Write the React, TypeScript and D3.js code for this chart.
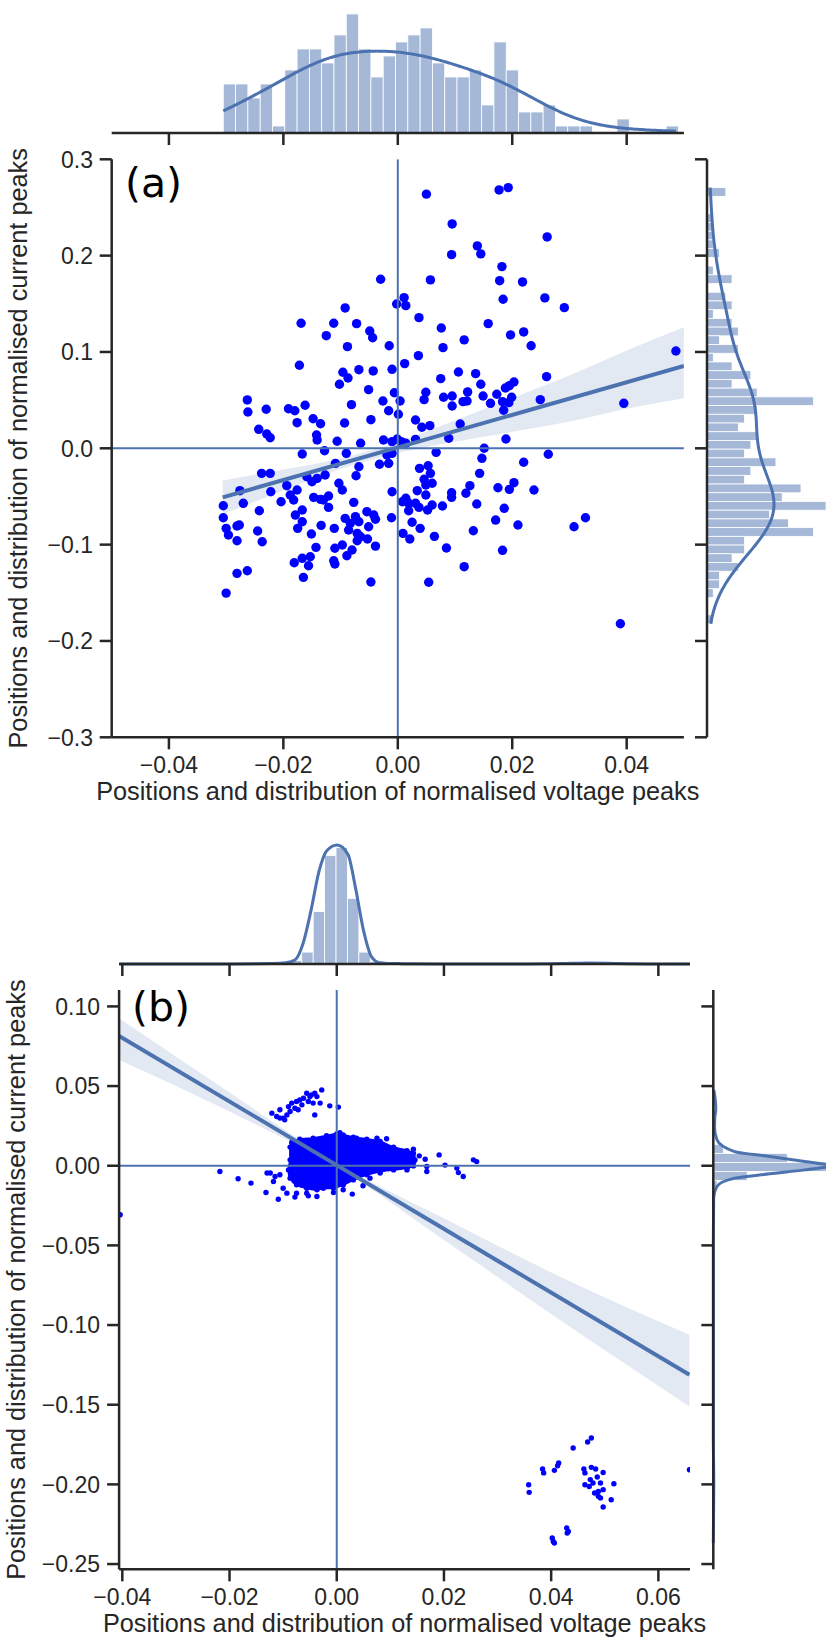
import React from "react";
import * as d3 from "d3";

// ---------------- Panel (a) data ----------------
const aPtsX = [0.0050,0.0095,0.0094,-0.0030,0.0057,0.0011,-0.0002,0.0014,0.0037,-0.0092,-0.0169,-0.0112,-0.0072,-0.0125,-0.0049,-0.0044,0.0076,-0.0088,-0.0015,0.0079,0.0036,-0.0172,0.0012,-0.0010,-0.0068,-0.0043,-0.0096,-0.0087,-0.0102,0.0075,-0.0051,-0.0026,-0.0006,0.0004,0.0049,0.0046,0.0080,-0.0081,0.0095,-0.0263,-0.0262,-0.0230,-0.0191,-0.0180,-0.0162,-0.0176,-0.0148,-0.0135,-0.0093,-0.0047,-0.0016,0.0001,0.0031,0.0042,0.0056,-0.0243,-0.0229,-0.0223,0.0177,0.0193,0.0261,0.0139,0.0145,0.0182,0.0178,0.0218,0.0257,0.0184,0.0291,0.0158,0.0197,0.0220,0.0116,0.0233,0.0486,0.0106,0.0136,0.0145,0.0260,0.0203,0.0195,0.0188,0.0122,0.0095,0.0114,0.0121,0.0149,0.0173,0.0162,0.0183,0.0194,0.0199,0.0185,0.0249,0.0395,0.0109,0.0089,0.0189,0.0031,-0.0001,-0.0142,-0.0141,-0.0106,-0.0065,-0.0025,-0.0010,0.0006,0.0014,-0.0128,-0.0167,-0.0090,-0.0109,-0.0068,-0.0032,-0.0016,-0.0019,-0.0010,0.0067,-0.0238,-0.0223,-0.0073,-0.0159,-0.0150,-0.0141,-0.0127,0.0038,0.0053,0.0057,0.0046,0.0060,0.0049,-0.0276,-0.0222,-0.0194,-0.0176,-0.0188,-0.0182,-0.0103,-0.0097,-0.0010,0.0034,0.0049,-0.0147,-0.0135,-0.0121,-0.0130,-0.0121,-0.0204,-0.0270,-0.0305,-0.0077,0.0014,0.0019,0.0031,0.0037,0.0052,0.0060,0.0078,0.0008,0.0019,-0.0242,-0.0179,-0.0167,-0.0305,-0.0167,-0.0092,-0.0074,-0.0054,-0.0042,-0.0039,-0.0083,-0.0068,-0.0051,-0.0086,-0.0011,0.0025,0.0039,-0.0300,-0.0296,-0.0281,-0.0277,-0.0245,-0.0175,-0.0134,-0.0111,-0.0151,-0.0071,-0.0065,-0.0053,-0.0071,-0.0039,0.0009,0.0021,0.0064,0.0085,-0.0281,-0.0237,-0.0143,-0.0110,-0.0097,-0.0080,-0.0089,-0.0153,-0.0167,-0.0181,-0.0156,-0.0112,-0.0110,-0.0165,-0.0281,-0.0263,-0.0047,0.0054,-0.0300,0.0151,0.0263,0.0147,0.0220,0.0143,0.0126,0.0119,0.0094,0.0094,0.0175,0.0195,0.0203,0.0238,0.0138,0.0186,0.0171,0.0210,0.0132,0.0183,0.0116,0.0308,0.0328,0.0389];
const aPtsY = [0.2638,0.2329,0.2010,0.1755,0.1748,0.1564,0.1498,0.1481,0.1356,0.1457,0.1298,0.1298,0.1294,0.1169,0.1218,0.1148,0.1249,0.1055,0.1065,0.1045,0.0962,0.0862,0.0879,0.0820,0.0816,0.0803,0.0789,0.0730,0.0665,0.0723,0.0609,0.0491,0.0577,0.0491,0.0582,0.0505,0.0530,0.0453,0.0439,0.0502,0.0377,0.0405,0.0411,0.0390,0.0447,0.0266,0.0307,0.0255,0.0263,0.0297,0.0390,0.0353,0.0294,0.0218,0.0235,0.0197,0.0148,0.0110,0.2682,0.2706,0.2194,0.2101,0.2018,0.1886,0.1740,0.1727,0.1561,0.1547,0.1460,0.1294,0.1177,0.1208,0.1125,0.1065,0.1010,0.0792,0.0775,0.0665,0.0744,0.0688,0.0650,0.0626,0.0585,0.0543,0.0484,0.0491,0.0543,0.0561,0.0467,0.0484,0.0474,0.0530,0.0395,0.0505,0.0467,0.0252,0.0104,0.0097,0.0093,0.0097,0.0138,0.0086,0.0073,0.0052,0.0086,0.0069,0.0069,0.0052,-0.0025,-0.0059,-0.0052,-0.0156,-0.0191,-0.0166,-0.0156,-0.0070,-0.0052,-0.0042,-0.0260,-0.0260,-0.0285,-0.0295,-0.0347,-0.0312,-0.0277,-0.0208,-0.0181,-0.0260,-0.0322,-0.0363,-0.0381,-0.0440,-0.0451,-0.0388,-0.0433,-0.0485,-0.0537,-0.0363,-0.0433,-0.0451,-0.0440,-0.0485,-0.0509,-0.0530,-0.0495,-0.0537,-0.0613,-0.0555,-0.0571,-0.0596,-0.0561,-0.0519,-0.0571,-0.0571,-0.0613,-0.0641,-0.0589,-0.0599,-0.0555,-0.0648,-0.0648,-0.0693,-0.0641,-0.0721,-0.0762,-0.0727,-0.0710,-0.0658,-0.0693,-0.0737,-0.0779,-0.0762,-0.0814,-0.0848,-0.0721,-0.0768,-0.0831,-0.0831,-0.0900,-0.0807,-0.0796,-0.0859,-0.0831,-0.0800,-0.0831,-0.0890,-0.0883,-0.0918,-0.0942,-0.0960,-0.1015,-0.0883,-0.0942,-0.0914,-0.1035,-0.0960,-0.0970,-0.1028,-0.1038,-0.1004,-0.1056,-0.1115,-0.1126,-0.1142,-0.1188,-0.1219,-0.1167,-0.1201,-0.1340,-0.1298,-0.1271,-0.1388,-0.1391,-0.1503,0.0000,-0.0062,-0.0104,-0.0145,-0.0260,-0.0388,-0.0467,-0.0461,-0.0509,-0.0409,-0.0426,-0.0357,-0.0433,-0.0578,-0.0623,-0.0745,-0.0796,-0.0856,-0.1059,-0.1229,-0.0814,-0.0721,-0.1821];

const aTopHistStart = -0.0305;
const aTopHistWidth = 0.00215;
const aTopHist = [7,7,5,7,1,9,12,12,10,14,17,12,8,11,13,14,15,10,8,8,9,4,13,9,3,3,4,1,1,1,0,0,2,0,0,0,1];

const aRightHistStart = 0.2706;
const aRightHistWidth = 0.00905;
const aRightHist = [3,0,0,1,1,1,1,2,0,1,4,0,3,4,1,4,5,2,5,1,4,7,4,8,17,8,6,5,8,7,6,11,7,6,15,12,19,10,13,17,6,6,4,5,2,2,1,0,0,1];

const aRegLineX = [-0.0306, 0.05];
const aRegLineY = [-0.0509, 0.0855];
const aBandX = [-0.0306,-0.02,-0.01,0,0.01,0.02,0.03,0.04,0.05];
const aBandHigh = [-0.0333,-0.0220,-0.0105,0.0066,0.0289,0.0522,0.0757,0.1015,0.1256];
const aBandLow = [-0.0685,-0.0438,-0.0215,-0.0048,0.0067,0.0172,0.0277,0.0410,0.0519];

const aXTicks = [-0.04,-0.02,0,0.02,0.04];
const aYTicks = [-0.3,-0.2,-0.1,0,0.1,0.2,0.3];

// ---------------- Panel (b) data ----------------
const bPtsX = [-0.0121,-0.0112,-0.0106,-0.0100,-0.0093,-0.0090,-0.0084,-0.0078,-0.0075,-0.0069,-0.0062,-0.0056,-0.0050,-0.0041,-0.0037,-0.0028,-0.0044,-0.0031,-0.0013,0.0003,-0.0041,-0.0087,-0.0097,-0.0106,-0.0072,-0.0065,-0.0053,-0.0047,
-0.0184,-0.0160,-0.0132,-0.0109,-0.0130,-0.0124,-0.0115,-0.0106,-0.0118,-0.0100,-0.0093,-0.0078,-0.0075,-0.0056,-0.0053,-0.0037,-0.0019,-0.0006,0.0012,0.0012,0.0029,0.0049,0.0062,0.0081,0.0106,0.0131,0.0168,0.0168,0.0224,0.0227,0.0236,0.0191,0.0165,0.0154,0.0143,0.0144,0.0202,0.0255,0.0261,0.0093,0.0075,0.0037,0.0006,0.0118,0.0137,-0.0218,-0.0404,
0.0475,0.0468,0.0441,0.0414,0.0412,0.0406,0.0384,0.0386,0.0358,0.0359,0.0461,0.0463,0.0475,0.0483,0.0486,0.0473,0.0463,0.0471,0.0492,0.0497,0.0517,0.0488,0.0497,0.0488,0.0492,0.0512,0.0497,0.0402,0.0404,0.0406,0.0429,0.0432,0.0430,0.0658,0.0478,0.0481];
const bPtsY = [0.0330,0.0309,0.0351,0.0299,0.0319,0.0371,0.0393,0.0361,0.0403,0.0413,0.0424,0.0455,0.0434,0.0455,0.0434,0.0476,0.0393,0.0393,0.0376,0.0368,0.0319,0.0340,0.0288,0.0299,0.0351,0.0382,0.0403,0.0445,
-0.0082,-0.0109,-0.0168,-0.0210,-0.0046,-0.0046,-0.0068,-0.0057,-0.0099,-0.0141,-0.0172,-0.0197,-0.0172,-0.0172,-0.0189,-0.0193,-0.0130,-0.0168,-0.0151,-0.0120,-0.0178,-0.0126,-0.0078,-0.0046,-0.0015,-0.0026,-0.0036,-0.0005,-0.0015,-0.0043,-0.0068,0.0068,0.0041,0.0062,0.0104,0.0026,0.0004,0.0037,0.0026,0.0169,0.0173,0.0173,0.0208,0.0062,0.0058,-0.0036,-0.0308,
-0.1709,-0.1734,-0.1772,-0.1866,-0.1883,-0.1912,-0.1903,-0.1928,-0.2002,-0.2050,-0.1903,-0.1928,-0.1893,-0.1903,-0.1954,-0.1970,-0.2002,-0.2013,-0.1991,-0.1925,-0.1996,-0.2044,-0.2033,-0.2075,-0.2085,-0.2096,-0.2142,-0.2336,-0.2358,-0.2368,-0.2274,-0.2295,-0.2305,-0.1908,-0.1991,-0.2054];

// outline of the dense (fully overlapping) central cloud of points
const bBlobX = [-0.0087,-0.0084,-0.0069,-0.0044,-0.0019,0.0000,0.0012,0.0031,0.0056,0.0081,0.0106,0.0131,0.0143,0.0146,0.0143,0.0131,0.0106,0.0081,0.0056,0.0031,0.0012,-0.0006,-0.0025,-0.0037,-0.0056,-0.0075,-0.0087,-0.0090,-0.0087];
const bBlobY = [0.0117,0.0146,0.0167,0.0173,0.0188,0.0200,0.0194,0.0179,0.0167,0.0152,0.0117,0.0095,0.0079,0.0037,-0.0001,-0.0015,-0.0026,-0.0036,-0.0057,-0.0089,-0.0120,-0.0141,-0.0141,-0.0151,-0.0141,-0.0120,-0.0078,-0.0026,0.0037];

const bTopHistStart = -0.0406;
const bTopHistWidth = 0.00213;
const bTopHist = [0,0,0,0,0,0,0,0,0,0,0,0,0,0,0,3,10,44,91,98,55,10,2,0,0,0,0,0,0,0,0,0,0,0,0,0,0,0,0,0,0.5,0.6,0.4,0,0,0,0,0,0,0];
const bTopKdeX = [-0.0406,-0.02,-0.012,-0.0095,-0.0078,-0.0063,-0.0048,-0.0033,-0.0019,0.0001,0.0021,0.0035,0.005,0.0065,0.008,0.0095,0.012,0.02,0.035,0.042,0.047,0.052,0.058,0.0659];
const bTopKdeV = [0,0.1,0.4,1,3.3,17,45,78,95,100,92,64,28,6,1,0.5,0.3,0.1,0.1,0.4,0.8,0.5,0.1,0];

const bRightHistStart = 0.0476;
const bRightHistWidth = 0.00569;
const bRightHist = [0,0.6,0.8,0.5,0,0,8,59,94,27,3,0,0,0,0,0,0,0,0,0,0,0,0,0,0,0,0,0,0,0,0,0,0,0,0,0,0,0,0,0,0,0,0,0,0,0,0,0,0,0];
const bRightKdeY = [0.0476,0.042,0.036,0.030,0.024,0.0163,0.0089,0.0058,0.0026,0.0,-0.0026,-0.0051,-0.0078,-0.013,-0.02,-0.05,-0.1,-0.17,-0.19,-0.2,-0.21,-0.2368];
const bRightKdeV = [0.3,1.5,2,1.2,1,2.9,17,45,73,95,73,45,17,2.9,0.3,0,0,0,0.3,0.4,0.3,0];

const bRegLineX = [-0.0406, 0.0658];
const bRegLineY = [0.0815, -0.1312];
const bBandX = [-0.0406,-0.02,0,0.02,0.04,0.0658];
const bBandHigh = [0.0926,0.0460,0.0016,-0.0330,-0.0670,-0.1061];
const bBandLow = [0.0664,0.0340,-0.0008,-0.0466,-0.0930,-0.1511];

const bXTicks = [-0.04,-0.02,0,0.02,0.04,0.06];
const bYTicks = [-0.25,-0.2,-0.15,-0.1,-0.05,0,0.05,0.1];

const xLabel = "Positions and distribution of normalised voltage peaks";
const yLabel = "Positions and distribution of normalised current peaks";

// ---------------- styling ----------------
const AXIS = "#262626";
const DEEP = "#4c72b0";
const HIST = "#a5b8d8";
const BAND = "#e2e9f3";
const PT = "#0000ff";
const TICKFONT = "'Liberation Sans', Arial, sans-serif";

function kdeCurve(values: number[], lo: number, hi: number, adjust = 1, n = 200) {
  const N = values.length;
  const sorted = values.slice().sort((a, b) => a - b);
  const sd = d3.deviation(values) as number;
  const iqr = (d3.quantile(sorted, 0.75) as number) - (d3.quantile(sorted, 0.25) as number);
  const A = Math.min(sd, iqr / 1.349);
  const bw = adjust * 1.059 * A * Math.pow(N, -0.2);
  const c = 1 / (N * bw * Math.sqrt(2 * Math.PI));
  return d3.range(n + 1).map((i) => {
    const x = lo + ((hi - lo) * i) / n;
    let s = 0;
    for (const v of values) { const z = (x - v) / bw; s += Math.exp(-0.5 * z * z); }
    return [x, s * c] as [number, number];
  });
}

type Layout = { left: number; right: number; top: number; bottom: number; mTop: number; mBottom: number; mLeft: number; mRight: number };

function Panel(props: {
  L: Layout; xDomain: [number, number]; yDomain: [number, number];
  ptsX: number[]; ptsY: number[]; r: number;
  blobX?: number[]; blobY?: number[];
  bandX: number[]; bandHigh: number[]; bandLow: number[];
  regX: number[]; regY: number[];
  xTicks: number[]; yTicks: number[]; xFmt: string; yFmt: string;
  topBars: { x0: number; x1: number; v: number }[]; topKde: [number, number][]; topMax: number;
  rightBars: { y0: number; y1: number; v: number }[]; rightKde: [number, number][]; rightMax: number;
  tag: string; tagX: number; tagY: number;
  xTickY: number; xLabelY: number; yTickRight: number; yLabelX: number;
}) {
  const { L } = props;
  const x = d3.scaleLinear().domain(props.xDomain).range([L.left, L.right]);
  const y = d3.scaleLinear().domain(props.yDomain).range([L.bottom, L.top]);
  const hTop = d3.scaleLinear().domain([0, props.topMax * 1.05]).range([L.mBottom, L.mTop]);
  const hRight = d3.scaleLinear().domain([0, props.rightMax * 1.05]).range([L.mLeft, L.mRight]);
  const fx = d3.format(props.xFmt);
  const fy = d3.format(props.yFmt);
  const tick = 12;

  const band = d3.area<number>()
    .x((_, i) => x(props.bandX[i]))
    .y0((_, i) => y(props.bandLow[i]))
    .y1((_, i) => y(props.bandHigh[i]))
    .curve(d3.curveMonotoneX)(props.bandX);
  const reg = d3.line<number>().x((_, i) => x(props.regX[i])).y((_, i) => y(props.regY[i]))(props.regX);
  const topKdePath = d3.line<[number, number]>().x((d) => x(d[0])).y((d) => hTop(d[1])).curve(d3.curveMonotoneX)(props.topKde);
  const rightKdePath = d3.line<[number, number]>().y((d) => y(d[0])).x((d) => hRight(d[1])).curve(d3.curveMonotoneY)(props.rightKde);
  let blob: string | null = null;
  const bx = props.blobX || [];
  const by = props.blobY || [];
  if (bx.length) {
    blob = d3.line<number>().x((_, i) => x(bx[i])).y((_, i) => y(by[i])).curve(d3.curveCardinalClosed.tension(0.3))(bx);
  }
  const cx = (L.left + L.right) / 2;
  const cy = (L.top + L.bottom) / 2;
  const clipId = "clip" + props.tag.replace(/[()]/g, "");

  return (
    <g>
      <defs>
        <clipPath id={clipId}><rect x={L.left} y={L.top} width={L.right - L.left} height={L.bottom - L.top} /></clipPath>
      </defs>
      {/* top marginal */}
      {props.topBars.map((b, i) => b.v > 0 ? (
        <rect key={"tb" + i} x={x(b.x0)} width={x(b.x1) - x(b.x0)} y={hTop(b.v)} height={hTop(0) - hTop(b.v)} fill={HIST} stroke="#fff" strokeWidth={0.8} />
      ) : null)}
      <path d={topKdePath || ""} fill="none" stroke={DEEP} strokeWidth={3} />
      <line x1={L.left} x2={L.right} y1={L.mBottom} y2={L.mBottom} stroke={AXIS} strokeWidth={2.5} />
      {props.xTicks.map((t) => (
        <line key={"tt" + t} x1={x(t)} x2={x(t)} y1={L.mBottom} y2={L.mBottom + tick} stroke={AXIS} strokeWidth={2.5} />
      ))}
      {/* right marginal */}
      {props.rightBars.map((b, i) => b.v > 0 ? (
        <rect key={"rb" + i} y={y(b.y0)} height={y(b.y1) - y(b.y0)} x={hRight(0)} width={hRight(b.v) - hRight(0)} fill={HIST} stroke="#fff" strokeWidth={0.8} />
      ) : null)}
      <path d={rightKdePath || ""} fill="none" stroke={DEEP} strokeWidth={3} />
      <line x1={L.mLeft} x2={L.mLeft} y1={L.top} y2={L.bottom} stroke={AXIS} strokeWidth={2.5} />
      {props.yTicks.map((t) => (
        <line key={"rt" + t} x1={L.mLeft - tick} x2={L.mLeft} y1={y(t)} y2={y(t)} stroke={AXIS} strokeWidth={2.5} />
      ))}
      {/* joint */}
      <g clipPath={`url(#${clipId})`}>
        <path d={band || ""} fill={BAND} />
        {blob ? <path d={blob} fill={PT} stroke={PT} strokeWidth={2} /> : null}
        {bx.map((v, i) => (
          <circle key={"bo" + i} cx={x(v)} cy={y(by[i])} r={props.r} fill={PT} />
        ))}
        {props.ptsX.map((v, i) => (
          <circle key={"p" + i} cx={x(v)} cy={y(props.ptsY[i])} r={props.r} fill={PT} />
        ))}
        <path d={reg || ""} stroke={DEEP} strokeWidth={4} fill="none" />
        <line x1={x(0)} x2={x(0)} y1={L.top} y2={L.bottom} stroke={DEEP} strokeWidth={2} />
        <line x1={L.left} x2={L.right} y1={y(0)} y2={y(0)} stroke={DEEP} strokeWidth={2} />
      </g>
      <line x1={L.left} x2={L.left} y1={L.top} y2={L.bottom} stroke={AXIS} strokeWidth={2.5} />
      <line x1={L.left} x2={L.right} y1={L.bottom} y2={L.bottom} stroke={AXIS} strokeWidth={2.5} />
      {props.xTicks.map((t) => (
        <g key={"xt" + t}>
          <line x1={x(t)} x2={x(t)} y1={L.bottom} y2={L.bottom + tick} stroke={AXIS} strokeWidth={2.5} />
          <text x={x(t)} y={props.xTickY} textAnchor="middle" fontFamily={TICKFONT} fontSize={23} fill={AXIS}>{fx(t)}</text>
        </g>
      ))}
      {props.yTicks.map((t) => (
        <g key={"yt" + t}>
          <line x1={L.left - tick} x2={L.left} y1={y(t)} y2={y(t)} stroke={AXIS} strokeWidth={2.5} />
          <text x={props.yTickRight} y={y(t)} dy="0.36em" textAnchor="end" fontFamily={TICKFONT} fontSize={23} fill={AXIS}>{fy(t)}</text>
        </g>
      ))}
      <text x={cx} y={props.xLabelY} textAnchor="middle" fontFamily={TICKFONT} fontSize={25.3} fill={AXIS}>{xLabel}</text>
      <text transform={`translate(${props.yLabelX},${cy}) rotate(-90)`} textAnchor="middle" fontFamily={TICKFONT} fontSize={25.3} fill={AXIS}>{yLabel}</text>
      <text x={props.tagX} y={props.tagY} fontFamily="'DejaVu Sans', sans-serif" fontSize={41} fill="#000">{props.tag}</text>
    </g>
  );
}

export default function App() {
  // panel (a)
  const LA: Layout = { left: 111.7, right: 683.9, top: 159.3, bottom: 737.3, mTop: 8, mBottom: 133, mLeft: 707, mRight: 832 };
  const aTopBars = aTopHist.map((v, i) => ({ x0: aTopHistStart + i * aTopHistWidth, x1: aTopHistStart + (i + 1) * aTopHistWidth, v }));
  const aRightBars = aRightHist.map((v, i) => ({ y0: aRightHistStart - i * aRightHistWidth, y1: aRightHistStart - (i + 1) * aRightHistWidth, v }));
  const aTopTotal = d3.sum(aTopHist) * aTopHistWidth;
  const aRightTotal = d3.sum(aRightHist) * aRightHistWidth;
  const aTopKde = kdeCurve(aPtsX, d3.min(aPtsX) as number, d3.max(aPtsX) as number, 1.3).map((d) => [d[0], d[1] * aTopTotal] as [number, number]);
  const aRightKde = kdeCurve(aPtsY, d3.min(aPtsY) as number, d3.max(aPtsY) as number, 1.0).map((d) => [d[0], d[1] * aRightTotal] as [number, number]);
  const aTopMax = Math.max(d3.max(aTopHist) as number, d3.max(aTopKde, (d) => d[1]) as number);
  const aRightMax = Math.max(d3.max(aRightHist) as number, d3.max(aRightKde, (d) => d[1]) as number);

  // panel (b)
  const LB: Layout = { left: 119.1, right: 690, top: 990, bottom: 1569.3, mTop: 839, mBottom: 964, mLeft: 713.3, mRight: 838.3 };
  const bTopBars = bTopHist.map((v, i) => ({ x0: bTopHistStart + i * bTopHistWidth, x1: bTopHistStart + (i + 1) * bTopHistWidth, v }));
  const bRightBars = bRightHist.map((v, i) => ({ y0: bRightHistStart - i * bRightHistWidth, y1: bRightHistStart - (i + 1) * bRightHistWidth, v }));
  const bTopKde = bTopKdeX.map((v, i) => [v, bTopKdeV[i]] as [number, number]);
  const bRightKde = bRightKdeY.map((v, i) => [v, bRightKdeV[i]] as [number, number]);
  const bTopMax = Math.max(d3.max(bTopHist) as number, d3.max(bTopKdeV) as number);
  const bRightMax = Math.max(d3.max(bRightHist) as number, d3.max(bRightKdeV) as number);

  return (
    <svg width={826} height={1642} style={{ position: "absolute", left: 0, top: 0, background: "#fff" }}>
      <rect x={0} y={0} width={826} height={1642} fill="#fff" />
      <Panel L={LA} xDomain={[-0.05, 0.05]} yDomain={[-0.3, 0.3]} ptsX={aPtsX} ptsY={aPtsY} r={4.7}
        bandX={aBandX} bandHigh={aBandHigh} bandLow={aBandLow} regX={aRegLineX} regY={aRegLineY}
        xTicks={aXTicks} yTicks={aYTicks} xFmt=".2f" yFmt=".1f"
        topBars={aTopBars} topKde={aTopKde} topMax={aTopMax}
        rightBars={aRightBars} rightKde={aRightKde} rightMax={aRightMax}
        tag="(a)" tagX={125} tagY={197} xTickY={773} xLabelY={800} yTickRight={93} yLabelX={27} />
      <Panel L={LB} xDomain={[-0.0406, 0.0659]} yDomain={[-0.2533, 0.1103]} ptsX={bPtsX} ptsY={bPtsY} r={2.7}
        blobX={bBlobX} blobY={bBlobY}
        bandX={bBandX} bandHigh={bBandHigh} bandLow={bBandLow} regX={bRegLineX} regY={bRegLineY}
        xTicks={bXTicks} yTicks={bYTicks} xFmt=".2f" yFmt=".2f"
        topBars={bTopBars} topKde={bTopKde} topMax={bTopMax}
        rightBars={bRightBars} rightKde={bRightKde} rightMax={bRightMax}
        tag="(b)" tagX={132} tagY={1021} xTickY={1605} xLabelY={1632} yTickRight={100} yLabelX={25} />
    </svg>
  );
}
